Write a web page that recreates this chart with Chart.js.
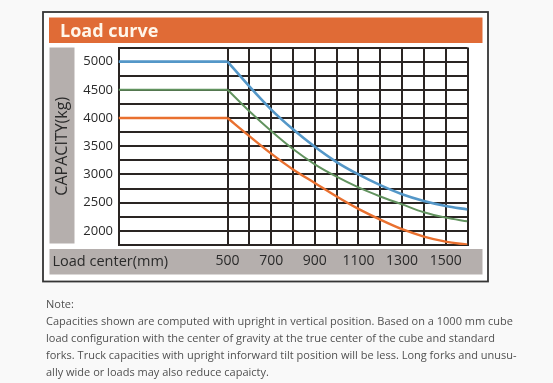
<!DOCTYPE html>
<html>
<head>
<meta charset="utf-8">
<script src="https://cdn.jsdelivr.net/npm/chart.js@4.4.1/dist/chart.umd.min.js"></script>
<style>
  html, body { margin: 0; padding: 0; background: #f9f9f9; width: 553px; height: 383px; overflow: hidden; }
  #wrap { position: relative; width: 553px; height: 383px; }
  #c { position: absolute; left: 0; top: 0; }
  #note { position: absolute; left: 46px; top: 295px; font-family: "Open Sans", sans-serif; font-size: 11.5px;
          line-height: 17px; color: #505050; white-space: nowrap; transform-origin: 0 0; }
  #note div span { display: inline-block; }
</style>
</head>
<body>
<div id="wrap">
  <canvas id="c" width="553" height="383"></canvas>
  <div id="note">
    <div><span>Note:</span></div>
    <div><span id="l1">Capacities shown are computed with upright in vertical position. Based on a 1000 mm cube</span></div>
    <div><span>load configuration with the center of gravity at the true center of the cube and standard</span></div>
    <div><span>forks. Truck capacities with upright inforward tilt position will be less. Long forks and unusu-</span></div>
    <div><span>ally wide or loads may also reduce capaicty.</span></div>
  </div>
</div>
<script>
// ---- data ----
const loadCenters = [500, 600, 700, 800, 900, 1000, 1100, 1200, 1300, 1400, 1500, 1600];
const capacityBlue   = [5000, 4560, 4150, 3800, 3490, 3220, 3000, 2810, 2650, 2530, 2440, 2380];
const capacityGreen  = [4500, 4120, 3770, 3450, 3180, 2960, 2770, 2610, 2470, 2330, 2235, 2170];
const capacityOrange = [4000, 3680, 3370, 3090, 2850, 2610, 2390, 2200, 2030, 1900, 1810, 1755];
const xTickLabels = [500, 700, 900, 1100, 1300, 1500];
const xGridValues = [0, 500, 600, 700, 800, 900, 1000, 1100, 1200, 1300, 1400, 1500, 1600];
const yTickLabels = [2000, 2500, 3000, 3500, 4000, 4500, 5000];
const xMin = 0, xMax = 1600, yMin = 1750, yMax = 5250, yStep = 250;
const titleText = "Load curve";
const yTitle = "CAPACITY(kg)";
const xTitle = "Load center(mm)";

const BLUE = "#5497c8", GREEN = "#62935f", ORANGE = "#e9702f";
const GRID = "#2a2523";

function flat(series) {
  return [{x: xMin, y: series[0]}, {x: loadCenters[0], y: series[0]}];
}
function curve(series) {
  return loadCenters.map((x, i) => ({x, y: series[i]}));
}
const series = [
  {name: "5000", data: capacityBlue, color: BLUE, w: 2.6},
  {name: "4500", data: capacityGreen, color: GREEN, w: 2.0},
  {name: "4000", data: capacityOrange, color: ORANGE, w: 2.4}
];
const datasets = [];
series.forEach(s => {
  datasets.push({label: s.name + " flat", data: flat(s.data), borderColor: s.color, borderWidth: s.w,
                 pointRadius: 0, tension: 0, fill: false});
  datasets.push({label: s.name, data: curve(s.data), borderColor: s.color, borderWidth: s.w,
                 pointRadius: 0, cubicInterpolationMode: "monotone", fill: false});
});

const decor = {
  id: "decor",
  beforeDraw(chart) {
    const ctx = chart.ctx;
    const ca = chart.chartArea;
    ctx.save();
    // frame
    ctx.fillStyle = "#ffffff";
    ctx.fillRect(43, 12, 445, 269.5);
    ctx.strokeStyle = "#353535";
    ctx.lineWidth = 1.8;
    ctx.strokeRect(43, 12, 445, 269.5);
    // header
    ctx.fillStyle = "#e06b36";
    ctx.fillRect(49, 17.5, 433.5, 25.5);
    ctx.fillStyle = "#fff6ea";
    ctx.font = "bold 18px 'Open Sans', sans-serif";
    ctx.textBaseline = "alphabetic";
    ctx.textAlign = "left";
    ctx.fillText(titleText, 60, 36.5);
    // gray boxes
    ctx.fillStyle = "#b5afad";
    ctx.fillRect(49.5, ca.top, 25, ca.bottom - ca.top - 1.5);
    ctx.fillRect(49.5, 249, 433, 25.5);
    // plot area background
    ctx.fillStyle = "#ffffff";
    ctx.fillRect(ca.left, ca.top, ca.right - ca.left, ca.bottom - ca.top);
    // y title
    ctx.fillStyle = "#2a2a2a";
    ctx.font = "16px 'Open Sans', sans-serif";
    ctx.translate(62, (ca.top + ca.bottom) / 2);
    ctx.rotate(-Math.PI / 2);
    ctx.textAlign = "center";
    ctx.textBaseline = "middle";
    ctx.fillText(yTitle, 0, 0);
    ctx.restore();
    ctx.save();
    ctx.fillStyle = "#2a2a2a";
    ctx.font = "14.5px 'Open Sans', sans-serif";
    ctx.textAlign = "left";
    ctx.textBaseline = "middle";
    ctx.fillText(xTitle, 52.5, 262);
    ctx.restore();
  }
};

new Chart(document.getElementById("c"), {
  type: "line",
  data: {datasets},
  options: {
    responsive: false,
    animation: false,
    events: [],
    layout: {padding: {top: 47.5, right: 85.5, bottom: 108, left: 0}},
    plugins: {legend: {display: false}, tooltip: {enabled: false}, title: {display: false}},
    scales: {
      x: {
        type: "linear", min: xMin, max: xMax,
        afterFit(scale) { scale.height = 30; },
        afterBuildTicks(scale) { scale.ticks = xGridValues.map(v => ({value: v})); },
        grid: {color: GRID, lineWidth: 2, drawTicks: false},
        border: {display: true, color: GRID, width: 2},
        ticks: {
          autoSkip: false, maxRotation: 0, padding: 8,
          color: "#2a2a2a", font: {family: "'Open Sans', sans-serif", size: 14},
          callback: v => xTickLabels.includes(v) ? String(v) : ""
        }
      },
      y: {
        min: yMin, max: yMax,
        afterFit(scale) { scale.width = 118.5; },
        grid: {color: GRID, lineWidth: 2, drawTicks: false},
        border: {display: true, color: GRID, width: 2},
        ticks: {
          stepSize: yStep, autoSkip: false, padding: 5.5,
          color: "#2a2a2a", font: {family: "'Open Sans', sans-serif", size: 13},
          callback: v => yTickLabels.includes(v) ? String(v) : ""
        }
      }
    }
  },
  plugins: [decor]
});

// fit note text width to the reference's measure
(function () {
  const note = document.getElementById("note");
  const l1 = document.getElementById("l1");
  const w = l1.getBoundingClientRect().width;
  if (w > 0) note.style.transform = "scaleX(" + (467 / w) + ")";
})();
</script>
</body>
</html>
